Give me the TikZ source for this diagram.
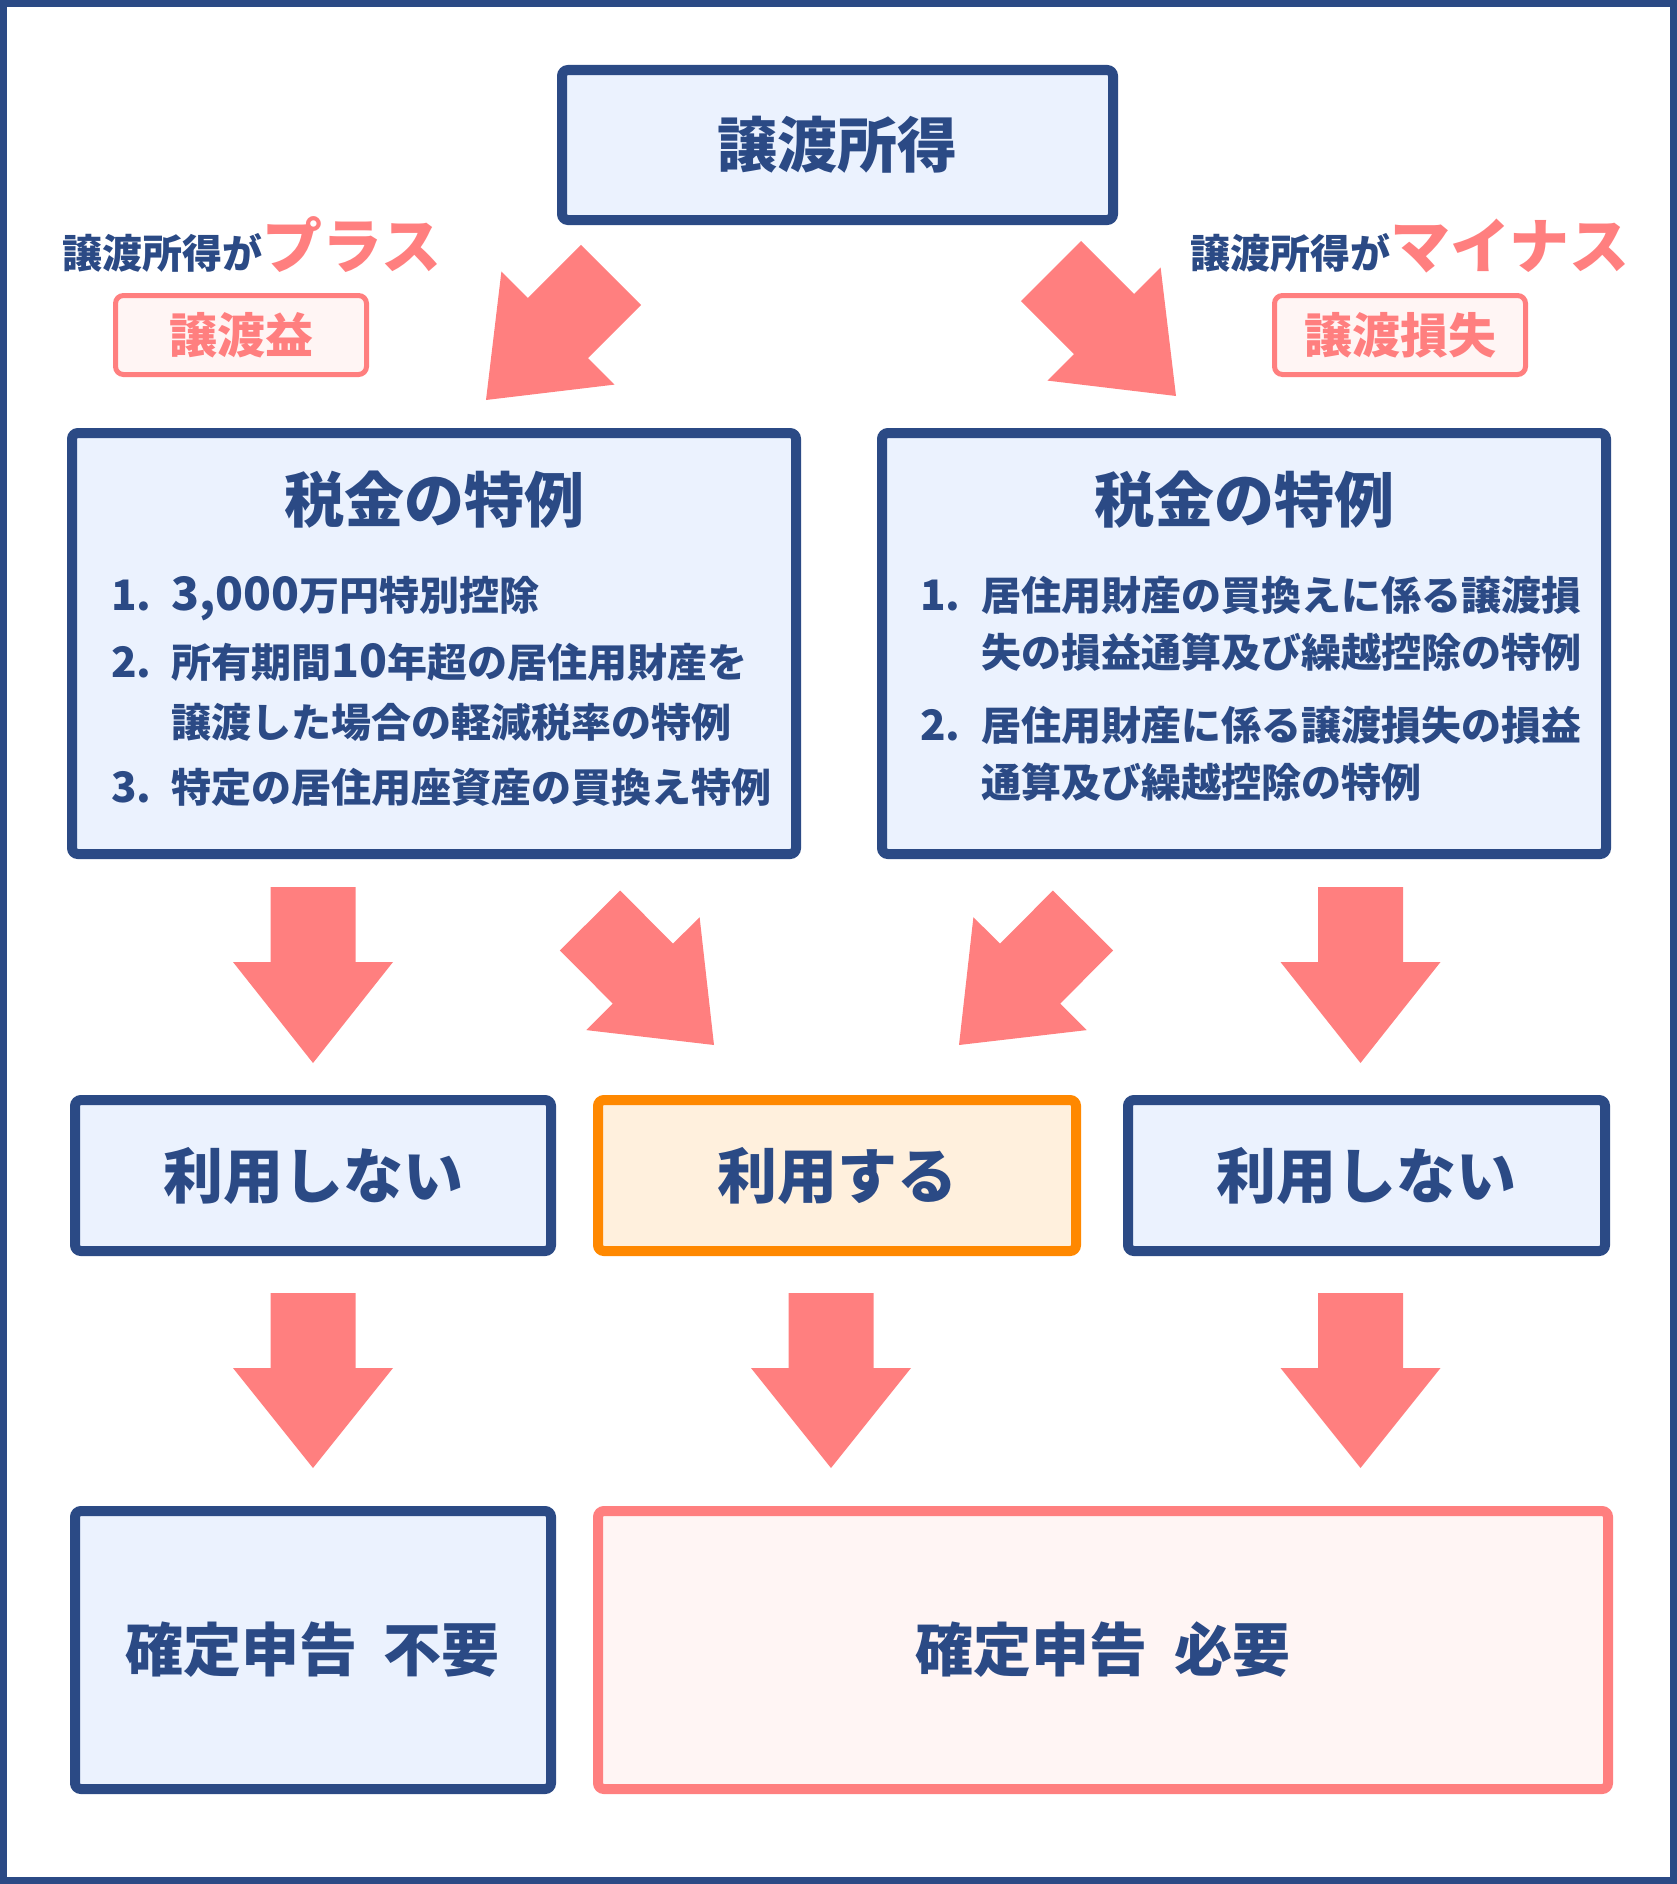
\documentclass[tikz,border=0pt]{standalone}
\usepackage{fontspec}
\setmainfont{Noto Sans CJK JP}
\usetikzlibrary{calc,positioning}

\definecolor{navy}{HTML}{2B4A85}
\definecolor{paleblue}{HTML}{EBF2FE}
\definecolor{salmon}{HTML}{FF7F7F}
\definecolor{palepink}{HTML}{FFF5F4}
\definecolor{amber}{HTML}{FF8800}
\definecolor{paleamber}{HTML}{FFF0DD}

\newcommand{\px}[1]{\fontsize{#1}{#1}\selectfont}
\newcommand{\bigarrow}[2]{%
	\coordinate (neck) at ($(#1)!75pt!(#2)$);
	\fill[salmon] ($(#1)!42.5pt!90:(#2)$) -- ($(neck)!42.5pt!90:(#2)$) -- ($(neck)!80pt!90:(#2)$) -- (#2)
	-- ($(neck)!80pt!-90:(#2)$) -- ($(neck)!42.5pt!-90:(#2)$) -- ($(#1)!42.5pt!-90:(#2)$) -- cycle;}

\begin{document}
\begin{tikzpicture}[x=1pt,y=-1pt,font=\bfseries,
	every node/.style={inner sep=0pt,text=navy},
	bluebox/.style={draw=navy,fill=paleblue,line width=10pt,rounded corners=6pt},
	usebox/.style={draw=amber,fill=paleamber,line width=10pt,rounded corners=6pt},
	needbox/.style={draw=salmon,fill=palepink,line width=10pt,rounded corners=6pt},
	tagbox/.style={draw=salmon,fill=palepink,line width=5pt,rounded corners=8pt,text=salmon},
	item/.style={anchor=base west}]
	\useasboundingbox (0,0) rectangle (1677,1884);
	\draw[navy,line width=7pt] (3.5,3.5) rectangle (1673.5,1880.5);

	\node[bluebox,minimum width=551pt,minimum height=150pt] (top) at (837.5,145) {\px{60}譲渡所得};

	\node[item] (plus) at (62,268) {\px{40}譲渡所得が{\px{60}\color{salmon}プラス}};
	\node[item] (minus) at (1190,268) {\px{40}譲渡所得が{\px{60}\color{salmon}マイナス}};
	\node[tagbox,minimum width=251pt,minimum height=79pt] (gain) at (241,335) {\px{48}譲渡益};
	\node[tagbox,minimum width=251pt,minimum height=79pt] (loss) at (1400,335) {\px{48}譲渡損失};

	\node[bluebox,minimum width=724pt,minimum height=421pt] (sl) at (434,643.5) {};
	\node[bluebox,minimum width=724pt,minimum height=421pt] (sr) at (1244,643.5) {};
	\node (slt) at (434,500) {\px{60}税金の特例};
	\node (srt) at (1244,500) {\px{60}税金の特例};

	\node[item] (l1) at (111,610) {\px{42}1.};
	\node[item] at (171,610) {\px{40}{\px{46}3,000}万円特別控除};
	\node[item] (l2) at (111,677) {\px{42}2.};
	\node[item] at (171,677) {\px{40}所有期間{\px{46}10}年超の居住用財産を};
	\node[item] at (171,737) {\px{40}譲渡した場合の軽減税率の特例};
	\node[item] (l3) at (111,802) {\px{42}3.};
	\node[item] at (171,802) {\px{40}特定の居住用座資産の買換え特例};

	\node[item] (r1) at (920,610) {\px{42}1.};
	\node[item] at (981,610) {\px{40}居住用財産の買換えに係る譲渡損};
	\node[item] at (981,667) {\px{40}失の損益通算及び繰越控除の特例};
	\node[item] (r2) at (920,740) {\px{42}2.};
	\node[item] at (981,740) {\px{40}居住用財産に係る譲渡損失の損益};
	\node[item] at (981,797) {\px{40}通算及び繰越控除の特例};

	\node[bluebox,minimum width=476pt,minimum height=151pt] (nl) at (313,1175.5) {\px{60}利用しない};
	\node[usebox,minimum width=478pt,minimum height=151pt] (use) at (837,1175.5) {\px{60}利用する};
	\node[bluebox,minimum width=477pt,minimum height=151pt] (nr) at (1366.5,1175.5) {\px{60}利用しない};

	\node[bluebox,minimum width=476pt,minimum height=278pt] (free) at (313,1650) {\px{58}確定申告\hspace{0.45em}不要};
	\node[needbox,minimum width=1010pt,minimum height=278pt] (need) at (1103,1650) {\px{58}確定申告\hspace{0.45em}必要};

	\coordinate (a1) at (611,275);   \coordinate (b1) at (486,400);
	\coordinate (a2) at (1051,271);  \coordinate (b2) at (1176,396);
	\coordinate (a3) at (313,887);   \coordinate (b3) at (313,1063);
	\coordinate (a4) at (590,920.5); \coordinate (b4) at (714,1045);
	\coordinate (a5) at (1083,920.5);\coordinate (b5) at (959,1045);
	\coordinate (a6) at (1360.5,887);\coordinate (b6) at (1360.5,1063);
	\coordinate (a7) at (313,1293);  \coordinate (b7) at (313,1468);
	\coordinate (a8) at (831,1293);  \coordinate (b8) at (831,1468);
	\coordinate (a9) at (1360.5,1293);\coordinate (b9) at (1360.5,1468);
	\foreach \i in {1,...,9} {\bigarrow{a\i}{b\i}}
\end{tikzpicture}
\end{document}
